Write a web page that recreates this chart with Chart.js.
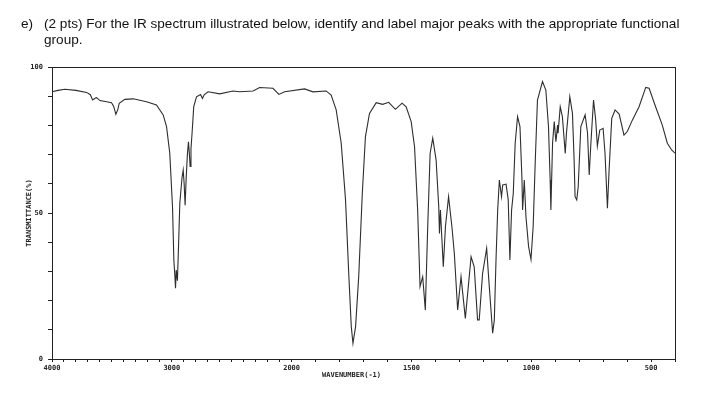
<!DOCTYPE html>
<html>
<head>
<meta charset="utf-8">
<script src="https://cdn.jsdelivr.net/npm/chart.js@4.4.1/dist/chart.umd.min.js"></script>
<style>
  html, body { margin: 0; padding: 0; background: #fff; }
  #wrap { position: relative; width: 722px; height: 405px; overflow: hidden; }
  #chart { position: absolute; left: 0; top: 0; }
  .q { position: absolute; font: 13.6px "Liberation Sans", Arial, sans-serif; color: #111; line-height: 16px; white-space: nowrap; }
</style>
</head>
<body>
<div id="wrap">
  <canvas id="chart" width="722" height="405"></canvas>
  <div class="q" style="left:21px;top:16px">e)</div>
  <div class="q" style="left:44px;top:16px">(2 pts) For the IR spectrum illustrated below, identify and label major peaks with the appropriate functional</div>
  <div class="q" style="left:44px;top:32px">group.</div>
</div>
<script>
// spectrum (wavenumber cm-1 / transmittance %)
const wavenumbers = [
  4000, 3950, 3892, 3800, 3711, 3680, 3661, 3640, 3628, 3600, 3544, 3503, 3485, 3467, 3450, 3439,
  3392, 3322, 3211, 3128, 3072, 3044, 3017, 2994, 2983, 2975, 2969, 2963, 2953, 2943, 2933, 2915,
  2905, 2897, 2889, 2880, 2870, 2861, 2853, 2847, 2840, 2830, 2817, 2794, 2760, 2744, 2730, 2697,
  2600, 2489, 2433, 2322, 2267, 2156, 2106, 2058, 1946, 1911, 1856, 1835, 1814, 1793, 1775, 1761,
  1751, 1744, 1733, 1720, 1705, 1692, 1675, 1647, 1620, 1595, 1567, 1539, 1522, 1501, 1487, 1474,
  1464, 1453, 1442, 1432, 1422, 1411, 1397, 1386, 1383, 1379, 1367, 1358, 1345, 1331, 1321, 1307,
  1293, 1275, 1251, 1238, 1224, 1217, 1203, 1186, 1178, 1168, 1161, 1154, 1147, 1140, 1133, 1124,
  1119, 1105, 1096, 1089, 1082, 1075, 1067, 1057, 1047, 1039, 1036, 1029, 1022, 1011, 1001, 992,
  983, 974, 953, 939, 928, 921, 918, 911, 904, 897, 890, 888, 879, 870, 858, 853,
  839, 828, 821, 817, 810, 804, 793, 775, 765, 758, 751, 740, 731, 724, 714, 700,
  692, 682, 675, 664, 650, 633, 613, 599, 578, 550, 522, 508, 481, 453, 432, 414, 400
];
const transmittance = [
  91.5, 92.0, 92.4, 92.0, 91.3, 90.5, 88.7, 89.3, 89.5, 88.5, 88.1, 87.8, 86.5, 83.8, 85.5, 87.6,
  88.9, 89.1, 88.1, 87.0, 83.6, 79.6, 70.5, 52.0, 34.0, 28.8, 24.2, 30.5, 26.8, 40.0, 53.4, 62.0,
  64.7, 60.0, 52.7, 62.0, 70.0, 74.4, 70.0, 65.9, 72.0, 77.9, 86.4, 89.8, 90.6, 89.2, 90.5, 91.5,
  90.8, 91.8, 91.5, 91.8, 93.0, 92.7, 90.6, 91.5, 92.5, 91.5, 91.8, 90.4, 85.3, 73.9, 54.5, 28.2,
  11.1, 5.4, 11.1, 28.2, 56.7, 76.1, 84.1, 87.8, 87.2, 87.9, 85.5, 87.6, 86.4, 81.3, 72.7, 51.0,
  24.8, 28.2, 16.8, 45.3, 70.4, 75.6, 68.2, 52.2, 43.0, 51.0, 31.6, 45.3, 55.6, 45.3, 36.2, 16.8,
  28.2, 13.9, 35.0, 31.6, 13.4, 13.4, 29.3, 37.9, 28.2, 16.8, 8.8, 13.4, 33.9, 51.0, 61.3, 55.6,
  59.6, 59.9, 54.5, 33.9, 51.0, 56.7, 73.9, 83.0, 79.6, 62.4, 51.0, 61.3, 48.7, 38.5, 34.1, 45.3,
  68.2, 88.7, 95.0, 92.1, 79.6, 61.3, 51.0, 73.9, 81.3, 74.4, 80.1, 77.3, 86.4, 83.0, 70.4, 77.3,
  89.8, 84.1, 68.2, 55.6, 54.5, 59.0, 79.6, 83.6, 77.3, 63.0, 73.9, 88.7, 81.8, 72.9, 78.4, 79.0,
  70.4, 51.6, 64.7, 82.4, 85.3, 83.9, 76.7, 77.9, 81.8, 86.4, 93.0, 92.7, 86.4, 80.1, 73.9, 71.6, 70.5
];

// tick labels
const xLabels = [4000, 3000, 2000, 1500, 1000, 500];
const yLabels = [0, 50, 100];
const xTitle = "WAVENUMBER(-1)";
const yTitle = "TRANSMITTANCE(%)";

// the IR chart is drawn at half scale above 2000 cm-1
function toAxis(w) {
  return w >= 2000 ? (4000 - w) / 2 : 1000 + (2000 - w);
}
function fromAxis(u) {
  return u <= 1000 ? 4000 - u * 2 : 2000 - (u - 1000);
}

const ink = "#222";
const axisFont = { family: "DejaVu Sans Mono", size: 7, weight: "bold" };

let xTicks = [];
for (let w = 4000; w >= 400; w -= 100) xTicks.push(w);
let yTicks = [];
for (let t = 0; t <= 100; t += 10) yTicks.push(t);

const points = wavenumbers.map((w, i) => ({ x: toAxis(w), y: transmittance[i] }));

// x axis title sits under 1750 cm-1 in the original
const xTitlePlugin = {
  id: "xTitle",
  afterDraw(chart) {
    const sx = chart.scales.x;
    const ctx = chart.ctx;
    ctx.save();
    ctx.font = "bold 7px 'DejaVu Sans Mono'";
    ctx.fillStyle = ink;
    ctx.textAlign = "center";
    ctx.textBaseline = "middle";
    ctx.fillText(xTitle, sx.getPixelForValue(toAxis(1750)), sx.top + 16);
    ctx.restore();
  }
};

new Chart(document.getElementById("chart"), {
  type: "line",
  data: {
    datasets: [{
      data: points,
      borderColor: "#2e2e2e",
      borderWidth: 1.1,
      pointRadius: 0,
      tension: 0,
      fill: false
    }]
  },
  options: {
    responsive: false,
    animation: false,
    devicePixelRatio: 1,
    layout: { padding: { top: 67, right: 47, left: 0, bottom: 0 } },
    plugins: { legend: { display: false }, tooltip: { enabled: false } },
    scales: {
      x: {
        type: "linear",
        position: "bottom",
        min: toAxis(4000),
        max: toAxis(400),
        afterBuildTicks(scale) { scale.ticks = xTicks.map(w => ({ value: toAxis(w) })); },
        afterFit(scale) { scale.height = 46; },
        ticks: {
          autoSkip: false,
          maxRotation: 0,
          padding: 2,
          color: ink,
          font: axisFont,
          callback(value) {
            const w = Math.round(fromAxis(value));
            return xLabels.includes(w) ? String(w) : "";
          }
        },
        grid: { drawOnChartArea: false, drawTicks: true, tickLength: 3, color: ink },
        border: { display: true, color: ink, width: 1 }
      },
      y: {
        min: 0,
        max: 100,
        afterBuildTicks(scale) { scale.ticks = yTicks.map(t => ({ value: t })); },
        afterFit(scale) { scale.width = 52; },
        ticks: {
          autoSkip: false,
          padding: 5,
          color: ink,
          font: axisFont,
          callback(value) { return yLabels.includes(value) ? String(value) : ""; }
        },
        grid: { drawOnChartArea: false, drawTicks: true, tickLength: 4, color: ink },
        border: { display: true, color: ink, width: 1 },
        title: { display: true, text: yTitle, color: ink, font: axisFont, padding: { top: 25 } }
      },
      top: {
        type: "linear",
        position: "top",
        min: 0, max: 1,
        afterFit(scale) { scale.height = 0; },
        ticks: { display: false },
        grid: { display: false, drawTicks: false },
        border: { display: true, color: ink, width: 1 }
      },
      right: {
        type: "linear",
        position: "right",
        min: 0, max: 1,
        afterFit(scale) { scale.width = 0; },
        ticks: { display: false },
        grid: { display: false, drawTicks: false },
        border: { display: true, color: ink, width: 1 }
      }
    }
  },
  plugins: [xTitlePlugin]
});
</script>
</body>
</html>
